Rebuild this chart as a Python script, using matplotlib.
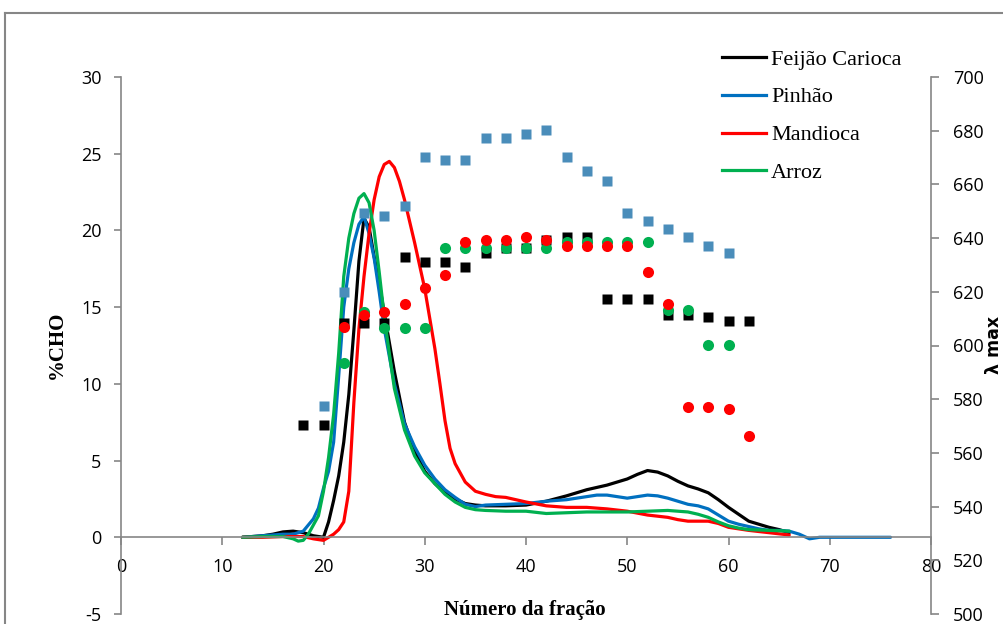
import matplotlib
matplotlib.use("Agg")
import matplotlib.pyplot as plt
from matplotlib.lines import Line2D

plt.rcParams['axes.unicode_minus'] = False

# %CHO curves (left axis)
frac_feijao = [12, 13, 14, 15, 16, 17, 18, 19, 20, 20.5, 21, 21.5, 22, 22.5, 23, 23.5, 24, 24.5, 25, 25.5, 26,
               27, 28, 29, 30, 31, 32, 33, 34, 35, 36, 38, 40, 42, 44, 46, 48, 50,
               51, 52, 53, 54, 55, 56, 57, 58, 59, 60, 61, 62, 63, 64, 65, 66]
cho_feijao = [0, 0.05, 0.1, 0.2, 0.35, 0.4, 0.3, 0.1, 0.0, 1.0, 2.4, 4.0, 6.2, 9.3, 13.5, 18.0, 20.8, 20.2, 18.3, 16.6, 14.6,
              10.8, 7.5, 5.6, 4.3, 3.5, 2.9, 2.5, 2.2, 2.1, 2.05, 2.05, 2.1, 2.35, 2.7, 3.1, 3.4, 3.8,
              4.1, 4.35, 4.25, 4.0, 3.65, 3.35, 3.15, 2.9, 2.45, 1.95, 1.5, 1.05, 0.85, 0.65, 0.5, 0.3]

frac_pinhao = [12, 13, 14, 15, 16, 17, 18, 19, 19.5, 20, 20.5, 21, 21.5, 22, 22.5, 23, 23.5, 24, 24.5, 25, 25.5, 26,
               27, 28, 29, 30, 31, 32, 33, 34, 35, 36, 38, 40, 42, 44, 46,
               47, 48, 49, 50, 51, 52, 53, 54, 55, 56, 57, 58, 59, 60, 61, 62, 63, 64, 65, 66, 67, 68, 69, 70,
               72, 74, 76]
cho_pinhao = [0, 0.05, 0.1, 0.15, 0.2, 0.2, 0.4, 1.2, 1.9, 3.2, 4.3, 6.2, 10.5, 15.0, 17.5, 19.2, 20.4, 20.9, 19.8, 18.2, 16.0, 13.6,
              10.0, 7.4, 5.9, 4.7, 3.8, 3.1, 2.6, 2.15, 2.0, 2.1, 2.15, 2.2, 2.35, 2.45, 2.65,
              2.75, 2.75, 2.65, 2.55, 2.65, 2.75, 2.7, 2.55, 2.35, 2.15, 2.05, 1.85, 1.45, 1.05, 0.85, 0.7, 0.55, 0.45, 0.45, 0.4, 0.2, -0.1, 0, 0,
              0, 0, 0]

frac_mandioca = [12, 14, 16, 18, 19, 20, 21, 21.5, 22, 22.5, 23, 23.5, 24, 24.5, 25, 25.5, 26, 26.5, 27, 27.5,
                 28, 28.5, 29, 30, 31, 31.5, 32, 32.5, 33, 34, 35, 36, 37, 38, 39, 40,
                 42, 44, 46, 48, 50, 52, 54, 55, 56, 58, 59, 60, 62, 64, 66]
cho_mandioca = [0, 0, 0.05, 0.05, -0.1, -0.2, 0.2, 0.5, 1.0, 3.0, 8.8, 13.6, 17.0, 19.8, 22.0, 23.5, 24.3, 24.5, 24.1, 23.2,
                22.0, 20.6, 19.2, 16.2, 12.3, 10.0, 7.6, 5.8, 4.8, 3.6, 3.0, 2.8, 2.65, 2.6, 2.45, 2.3,
                2.05, 1.95, 1.95, 1.85, 1.7, 1.45, 1.3, 1.15, 1.05, 1.05, 0.9, 0.65, 0.45, 0.3, 0.15]

frac_arroz = [12, 14, 16, 17, 17.5, 18, 18.5, 19, 19.5, 20, 20.5, 21, 21.5, 22, 22.5, 23, 23.5, 24, 24.5, 25, 25.5, 26, 26.5, 27,
              28, 29, 30, 31, 32, 33, 34, 35, 36, 38, 40, 42, 44, 46, 48, 50, 52, 54, 56,
              57, 58, 59, 60, 61, 62, 64, 66]
cho_arroz = [0, 0.05, 0.05, -0.1, -0.25, -0.2, 0.2, 0.8, 1.4, 3.0, 5.2, 8.0, 12.0, 17.0, 19.5, 21.1, 22.1, 22.4, 21.8, 20.0, 17.3, 14.4, 12.0, 9.7,
             7.0, 5.3, 4.2, 3.5, 2.8, 2.3, 1.95, 1.8, 1.75, 1.7, 1.7, 1.55, 1.6, 1.65, 1.65, 1.65, 1.7, 1.75, 1.65,
             1.5, 1.3, 1.0, 0.75, 0.6, 0.5, 0.45, 0.4]

# lambda max points (right axis)
lam_frac_feijao = [18, 20, 22, 24, 26, 28, 30, 32, 34, 36, 38, 40, 42, 44, 46, 48, 50, 52, 54, 56, 58, 60, 62]
lam_feijao = [570.4, 570.4, 608.4, 608.4, 608.4, 633.0, 631.1, 631.1, 629.2, 634.5, 636.3, 636.3,
              639.3, 640.4, 640.4, 617.3, 617.3, 617.3, 611.4, 611.4, 610.6, 609.1, 609.1]
lam_frac_pinhao = [20, 22, 24, 26, 28, 30, 32, 34, 36, 38, 40, 42, 44, 46, 48, 50, 52, 54, 56, 58, 60]
lam_pinhao = [577.5, 620.0, 649.3, 648.2, 652.0, 670.2, 669.0, 669.0, 677.3, 677.3, 678.8,
              680.3, 670.2, 665.0, 661.3, 649.3, 646.4, 643.4, 640.4, 637.1, 634.5]
lam_frac_mandioca = [22, 24, 26, 28, 30, 32, 34, 36, 38, 40, 42, 44, 46, 48, 50, 52, 54, 56, 58, 60, 62]
lam_mandioca = [606.9, 611.4, 612.5, 615.5, 621.4, 626.3, 638.5, 639.3, 639.3, 640.4, 639.3,
                637.1, 637.1, 637.1, 637.1, 627.4, 615.5, 577.1, 577.1, 576.4, 566.3]
lam_frac_arroz = [22, 24, 26, 28, 30, 32, 34, 36, 38, 40, 42, 44, 46, 48, 50, 52, 54, 56, 58, 60]
lam_arroz = [593.5, 612.5, 606.5, 606.5, 606.5, 636.3, 636.3, 636.3, 636.3, 636.3, 636.3,
             638.5, 638.5, 638.5, 638.5, 638.5, 613.2, 613.2, 600.2, 600.2]

names = ['Feijão Carioca', 'Pinhão', 'Mandioca', 'Arroz']
line_cols = ['#000000', '#0070C0', '#FF0000', '#00B050']
GRAY = '#868686'
SERIF = 'Liberation Serif'
SANS = 'Open Sans'

fig = plt.figure(figsize=(10.04, 6.24), dpi=100)
ax = fig.add_axes([121 / 1004, 1 - 614 / 624, 810 / 1004, 537 / 624])

curves = [(frac_feijao, cho_feijao), (frac_pinhao, cho_pinhao),
          (frac_mandioca, cho_mandioca), (frac_arroz, cho_arroz)]
for (xs, ys), c in zip(curves, line_cols):
    ax.plot(xs, ys, color=c, lw=2.3, solid_capstyle='round', solid_joinstyle='round')

ax.set_xlim(0, 80)
ax.set_ylim(-5, 30)
ax.set_xticks(range(0, 81, 10))
ax.set_yticks(range(-5, 31, 5))
ax.spines['top'].set_visible(False)
ax.spines['right'].set_visible(False)
ax.spines['bottom'].set_position(('data', 0))
for s in ('left', 'bottom'):
    ax.spines[s].set_color(GRAY)
    ax.spines[s].set_linewidth(1.2)
ax.tick_params(axis='y', direction='out', length=5, width=1.2, color=GRAY, pad=9)
ax.tick_params(axis='x', direction='out', length=6, width=1.2, color=GRAY, pad=9)
for lab in ax.get_xticklabels() + ax.get_yticklabels():
    lab.set_fontfamily(SANS)
    lab.set_fontsize(13)

ax2 = ax.twinx()
ax2.set_ylim(500, 700)
ax2.set_yticks(range(500, 701, 20))
for s in ('top', 'left', 'bottom'):
    ax2.spines[s].set_visible(False)
ax2.spines['right'].set_color(GRAY)
ax2.spines['right'].set_linewidth(1.2)
ax2.tick_params(axis='y', direction='out', length=6, width=1.2, color=GRAY, pad=10)
for lab in ax2.get_yticklabels():
    lab.set_fontfamily(SANS)
    lab.set_fontsize(13)

ax2.plot(lam_frac_feijao, lam_feijao, ls='none', marker='s', ms=7.5, color='#000000', mec='none')
ax2.plot(lam_frac_pinhao, lam_pinhao, ls='none', marker='s', ms=7.5, color='#4A8DBA', mec='none')
ax2.plot(lam_frac_arroz, lam_arroz, ls='none', marker='o', ms=8, color='#00B050', mec='none')
ax2.plot(lam_frac_mandioca, lam_mandioca, ls='none', marker='o', ms=8, color='#FF0000', mec='none')

handles = [Line2D([], [], color=c, lw=2.3) for c in line_cols]
ax2.legend(handles, names, loc='upper left', bbox_to_anchor=(722 / 1004, 1 - 49 / 624),
           bbox_transform=fig.transFigure, frameon=False, borderpad=0, borderaxespad=0,
           handlelength=2.0, handletextpad=0.2, labelspacing=0.78,
           prop={'family': SERIF, 'size': 16})

fig.text(525 / 1004, 1 - 610 / 624, 'Número da fração', ha='center', va='center',
         family=SERIF, fontsize=15, fontweight='bold')
fig.text(57 / 1004, 1 - 345 / 624, '%CHO', ha='center', va='center', rotation=90,
         family=SERIF, fontsize=15, fontweight='bold')
fig.text(994 / 1004, 1 - 345 / 624, 'λ max', ha='center', va='center', rotation=90,
         family='DejaVu Sans', fontsize=12.5, fontweight='bold')

# chart-area border (cut off at right and bottom)
fig.add_artist(Line2D([5 / 1004, 5 / 1004], [0, 1 - 13 / 624], color=GRAY, lw=1.5,
                      transform=fig.transFigure))
fig.add_artist(Line2D([5 / 1004, 1], [1 - 13 / 624, 1 - 13 / 624], color=GRAY, lw=1.5,
                      transform=fig.transFigure))

fig.savefig('out.png', dpi=100)
